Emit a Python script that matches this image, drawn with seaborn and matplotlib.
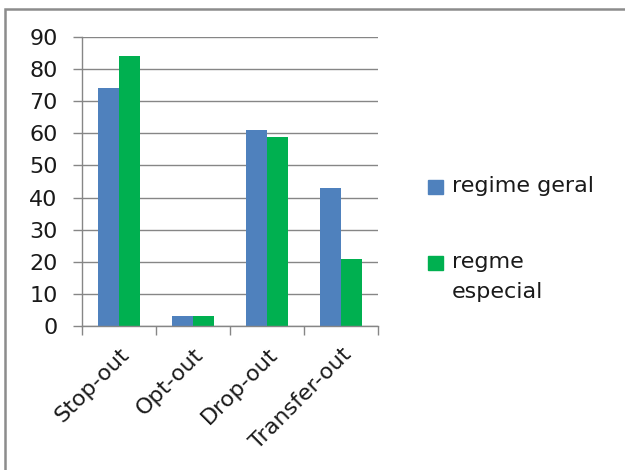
import matplotlib
matplotlib.use("Agg")
import matplotlib.pyplot as plt
import matplotlib.patches as mpatches
import seaborn as sns
import pandas as pd

categories = ["Stop-out", "Opt-out", "Drop-out", "Transfer-out"]
regime_geral = [74, 3, 61, 43]
regme_especial = [84, 3, 59, 21]
series_names = ["regime geral", "regme\nespecial"]
colors = ["#4F81BD", "#00B050"]
y_ticks = [0, 10, 20, 30, 40, 50, 60, 70, 80, 90]

df = pd.DataFrame({
    "categoria": categories * 2,
    "valor": regime_geral + regme_especial,
    "serie": [series_names[0]] * 4 + [series_names[1]] * 4,
})

sns.set_theme(style="white")
plt.rcParams["font.family"] = ["DejaVu Sans"]
FS = 16
TXT = "#1a1a1a"

fig = plt.figure(figsize=(6.25, 4.7), dpi=100)
ax = fig.add_axes([82 / 625, 1 - 326 / 470, (378 - 82) / 625, (326 - 37) / 470])

sns.barplot(data=df, x="categoria", y="valor", hue="serie", order=categories,
            hue_order=series_names, palette=colors, width=0.57, gap=0,
            saturation=1, linewidth=0, ax=ax, legend=False)

grid_col = "#868686"
ax.set_ylim(0, 90)
ax.set_xlim(-0.5, len(categories) - 0.5)
ax.set_yticks(y_ticks)
ax.yaxis.grid(True, color=grid_col, linewidth=1)
ax.set_axisbelow(True)
for side in ["top", "right"]:
    ax.spines[side].set_visible(False)
for side in ["left", "bottom"]:
    ax.spines[side].set_color(grid_col)
    ax.spines[side].set_linewidth(1)
ax.set_xlabel("")
ax.set_ylabel("")

ax.tick_params(axis="y", which="major", direction="out", length=6.5, width=1,
               color=grid_col, labelsize=FS, labelcolor=TXT, pad=11, left=True)
ax.set_xticks([i + 0.5 for i in range(-1, len(categories))], minor=True)
ax.tick_params(axis="x", which="minor", direction="out", length=6.5, width=1,
               color=grid_col, bottom=True)
ax.tick_params(axis="x", which="major", length=0, labelsize=FS,
               labelcolor=TXT, pad=13)
for lab in ax.get_xticklabels():
    lab.set_rotation(45)
    lab.set_ha("right")
    lab.set_rotation_mode("anchor")

# legend: square key beside each series name, key aligned with the first line
key = 15 / 625
for i, (c, n) in enumerate(zip(colors, series_names)):
    y_top = 1 - (180 + i * 76) / 470
    fig.patches.append(mpatches.Rectangle((428 / 625, y_top - 14 / 470), key, 14 / 470,
                                          transform=fig.transFigure, color=c))
    fig.text(452 / 625, y_top + 4 / 470, n, fontsize=FS, color=TXT, va="top", ha="left",
             linespacing=1.6)

# outer chart frame
fig.patches.append(mpatches.Rectangle((5 / 625, -0.05), 1.0, 1 - 9 / 470 + 0.05,
                                      transform=fig.transFigure, fill=False,
                                      edgecolor="#8c8c8c", linewidth=1.8))

fig.savefig("out.png", dpi=100, facecolor="white")
